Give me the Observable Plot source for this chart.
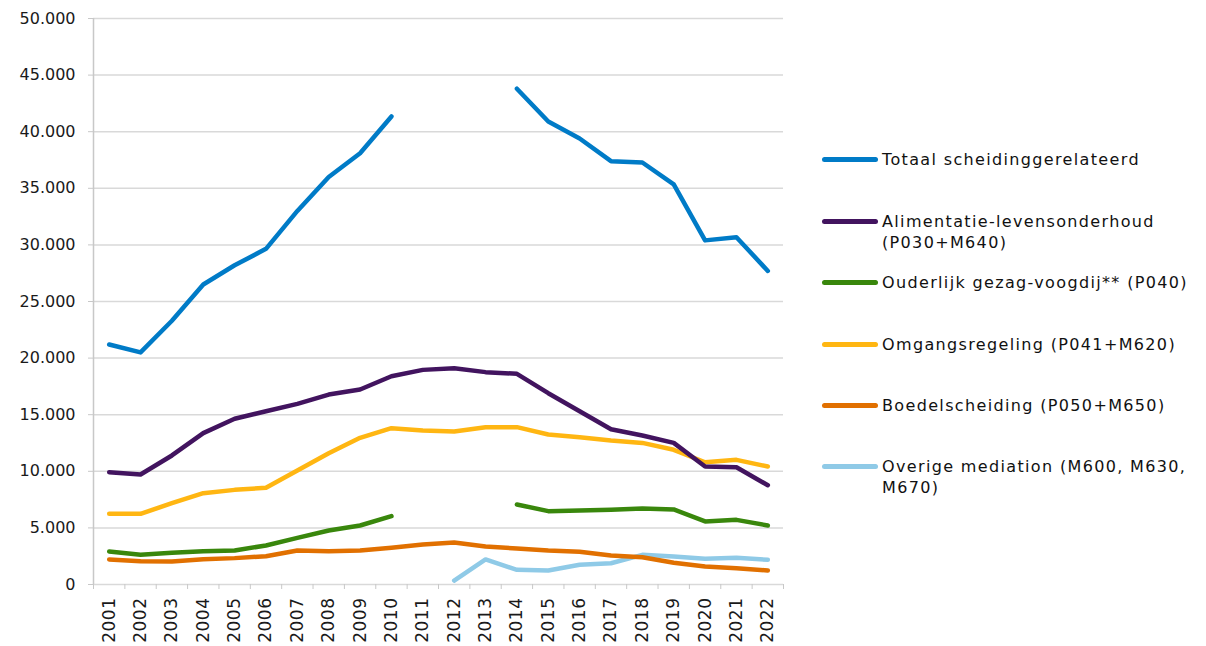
<!DOCTYPE html>
<html>
<head>
<meta charset="utf-8">
<script src="https://cdn.jsdelivr.net/npm/d3@7"></script>
<script src="https://cdn.jsdelivr.net/npm/@observablehq/plot@0.6"></script>
<style>
  html, body { margin: 0; padding: 0; background: #fff; }
  body { width: 1206px; height: 646px; position: relative; overflow: hidden; font-family: "DejaVu Sans", Verdana, sans-serif; }
  #chart { position: absolute; left: 0; top: 0; }
  #legend { position: absolute; left: 822px; top: 0; width: 384px; height: 646px; }
  .item { position: absolute; left: 0; display: flex; align-items: flex-start; }
  .sw { width: 56px; height: 5px; border-radius: 3px; margin-top: 8px; margin-right: 4px; flex: none; }
  .lbl { font-size: 16px; line-height: 21px; color: #111; width: 324px; letter-spacing: 1.35px; }
  .nowrap { white-space: nowrap; }
  g[aria-label="x-axis tick label"] text { letter-spacing: 0.5px; }
</style>
</head>
<body>
<div id="chart"></div>
<div id="legend"></div>
<script>
const years = [2001,2002,2003,2004,2005,2006,2007,2008,2009,2010,2011,2012,2013,2014,2015,2016,2017,2018,2019,2020,2021,2022];
const totaal      = [21200,20500,23300,26500,28200,29650,33000,36000,38100,41350,null,null,null,43800,40900,39400,37400,37280,35350,30400,30680,27700];
const alimentatie = [9920,9720,11400,13370,14640,15310,15960,16780,17230,18400,18960,19110,18760,18610,16900,15310,13720,13160,12510,10420,10360,8770];
const ouderlijk   = [2920,2620,2800,2940,3000,3450,4120,4770,5210,6040,null,null,null,7070,6480,6540,6600,6710,6630,5570,5710,5210];
const omgang      = [6240,6240,7180,8070,8360,8540,10070,11600,12960,13810,13600,13520,13900,13900,13250,13010,12720,12510,11900,10800,11010,10420];
const boedel      = [2210,2060,2030,2240,2330,2500,3000,2940,3000,3240,3530,3710,3360,3180,3000,2890,2560,2410,1920,1590,1440,1240];
const overige     = [null,null,null,null,null,null,null,null,null,null,null,350,2210,1300,1240,1740,1880,2620,2470,2270,2360,2180];
const seriesNames = [
  "Totaal scheidinggerelateerd",
  "Alimentatie-levensonderhoud (P030+M640)",
  "Ouderlijk gezag-voogdij** (P040)",
  "Omgangsregeling (P041+M620)",
  "Boedelscheiding (P050+M650)",
  "Overige mediation (M600, M630, M670)"
];
const seriesValues = [totaal, alimentatie, ouderlijk, omgang, boedel, overige];
const seriesColors = ["#007BC7", "#42145F", "#39870C", "#FFB612", "#E17000", "#8FCAE7"];
const yTicks = [0,5000,10000,15000,20000,25000,30000,35000,40000,45000,50000];

const nl = d3.formatLocale({decimal: ",", thousands: ".", grouping: [3], currency: ["€", ""]});
const fmt = nl.format(",d");

const rows = [];
seriesNames.forEach((name, si) => {
  years.forEach((yr, i) => rows.push({series: name, year: yr, value: seriesValues[si][i]}));
});
const edges = years.map(y => y - 0.5).concat([years[years.length - 1] + 0.5]);
const drawOrder = seriesNames.slice().reverse();

const chart = Plot.plot({
  width: 800,
  height: 646,
  marginLeft: 93,
  marginRight: 17,
  marginTop: 18,
  marginBottom: 62,
  style: {fontFamily: "DejaVu Sans, Verdana, sans-serif", fontSize: "16px", color: "#1a1a1a", background: "#fff"},
  x: {type: "linear", domain: [years[0] - 0.5, years[years.length - 1] + 0.5]},
  y: {domain: [0, 50000]},
  color: {domain: seriesNames, range: seriesColors},
  marks: [
    Plot.ruleY(yTicks, {y: d => d, stroke: "#d9d9d9", strokeWidth: 1.5}),
    Plot.ruleX([years[0] - 0.5], {stroke: "#c8c8c8", strokeWidth: 1.5}),
    Plot.axisY(yTicks, {tickFormat: fmt, tickSize: 5, tickPadding: 13, stroke: "#c8c8c8", fontSize: 16, label: null}),
    Plot.axisX(edges, {tickFormat: () => "", tickSize: 5, stroke: "#c8c8c8", label: null}),
    Plot.axisX(years, {tickFormat: d => String(d), tickSize: 0, tickPadding: 13, tickRotate: -90, fontSize: 17, label: null}),
    ...drawOrder.map(name => Plot.line(rows.filter(r => r.series === name), {
      x: "year", y: "value", stroke: "series", strokeWidth: 4.5, strokeLinecap: "round", strokeLinejoin: "round"
    }))
  ]
});
document.getElementById("chart").appendChild(chart);

const legend = document.getElementById("legend");
const tops = [149, 211, 272, 334, 395, 456];
seriesNames.forEach((name, i) => {
  const it = document.createElement("div");
  it.className = "item";
  it.style.top = tops[i] + "px";
  const sw = document.createElement("div");
  sw.className = "sw";
  sw.style.background = seriesColors[i];
  const lb = document.createElement("div");
  lb.className = "lbl" + (i === 2 ? " nowrap" : "");
  lb.textContent = name;
  it.appendChild(sw); it.appendChild(lb);
  legend.appendChild(it);
});
</script>
</body>
</html>
